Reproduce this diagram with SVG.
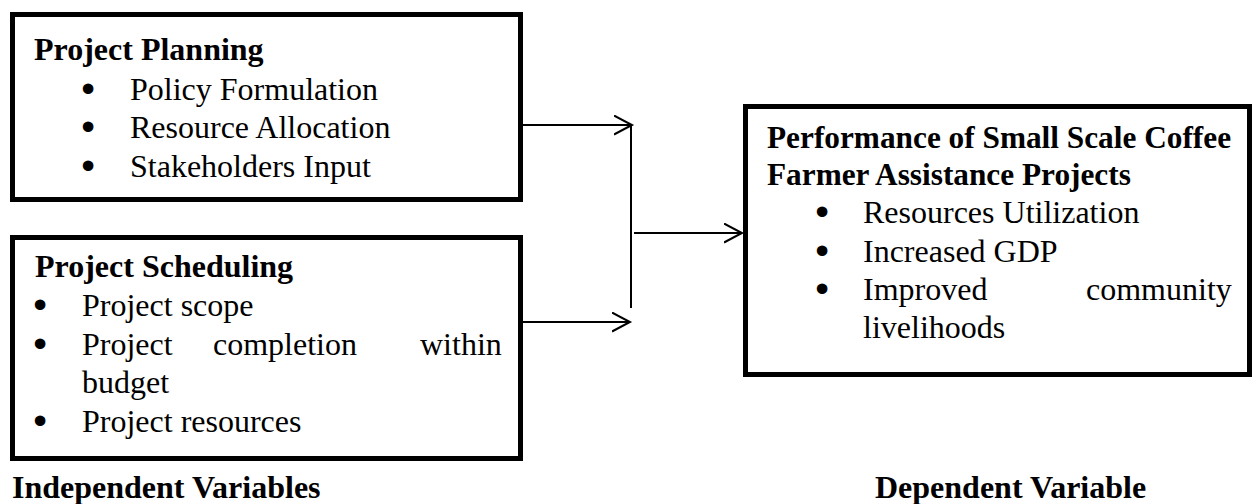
<svg xmlns="http://www.w3.org/2000/svg" width="1256" height="504" viewBox="0 0 1256 504">
<defs>
<style>
.box{fill:#fff;stroke:#000;stroke-width:5}
.t{font-family:"Liberation Serif","Times New Roman",serif;font-size:32px;fill:#000}
.b{font-weight:bold}
.h3{font-size:31.3px}
.bul{font-family:"Liberation Serif","Times New Roman",serif;font-size:32px;fill:#000;stroke:#000;stroke-width:3;text-anchor:middle}
.ln{stroke:#000;stroke-width:2;fill:none}
</style>
<marker id="arr" markerUnits="userSpaceOnUse" markerWidth="22" markerHeight="24" refX="18" refY="10" orient="auto">
<path d="M0,0.5 L18,10 L0,19.5" fill="none" stroke="#000" stroke-width="2"/>
</marker>
</defs>
<rect width="1256" height="504" fill="#fff"/>
<g id="connectors">
<line class="ln" x1="522" y1="125" x2="632" y2="125" marker-end="url(#arr)"/>
<line class="ln" x1="522" y1="322" x2="630" y2="322" marker-end="url(#arr)"/>
<line class="ln" x1="631" y1="125" x2="631" y2="308"/>
<line class="ln" x1="634" y1="233" x2="742" y2="233" marker-end="url(#arr)"/>
</g>
<g id="project-planning">
<rect class="box" x="12.5" y="14.5" width="508" height="185"/>
<text class="t b" x="34" y="60">Project Planning</text>
<text class="bul" x="88" y="100">•</text>
<text class="t" x="130" y="100">Policy Formulation</text>
<text class="bul" x="88" y="138">•</text>
<text class="t" x="130" y="138">Resource Allocation</text>
<text class="bul" x="88" y="177">•</text>
<text class="t" x="130" y="177">Stakeholders Input</text>
</g>
<g id="project-scheduling">
<rect class="box" x="12.5" y="237.5" width="508" height="221"/>
<text class="t b" x="35" y="277">Project Scheduling</text>
<text class="bul" x="40" y="316">•</text>
<text class="t" x="82" y="316">Project scope</text>
<text class="bul" x="40" y="355">•</text>
<text class="t" y="355"><tspan x="82">Project</tspan><tspan x="213">completion</tspan><tspan x="420">within</tspan></text>
<text class="t" x="82" y="393">budget</text>
<text class="bul" x="40" y="432">•</text>
<text class="t" x="82" y="432">Project resources</text>
</g>
<g id="performance">
<rect class="box" x="745.5" y="106.5" width="504" height="268"/>
<text class="t b h3" x="767" y="147.5">Performance of Small Scale Coffee</text>
<text class="t b h3" x="767" y="185">Farmer Assistance Projects</text>
<text class="bul" x="822" y="223">•</text>
<text class="t" x="863" y="223">Resources Utilization</text>
<text class="bul" x="822" y="261.5">•</text>
<text class="t" x="863" y="261.5">Increased GDP</text>
<text class="bul" x="822" y="300">•</text>
<text class="t" y="300"><tspan x="863">Improved</tspan><tspan x="1086">community</tspan></text>
<text class="t" x="863" y="338">livelihoods</text>
</g>
<g id="labels">
<text class="t b" x="12" y="498">Independent Variables</text>
<text class="t b" x="875" y="498">Dependent Variable</text>
</g>
</svg>
